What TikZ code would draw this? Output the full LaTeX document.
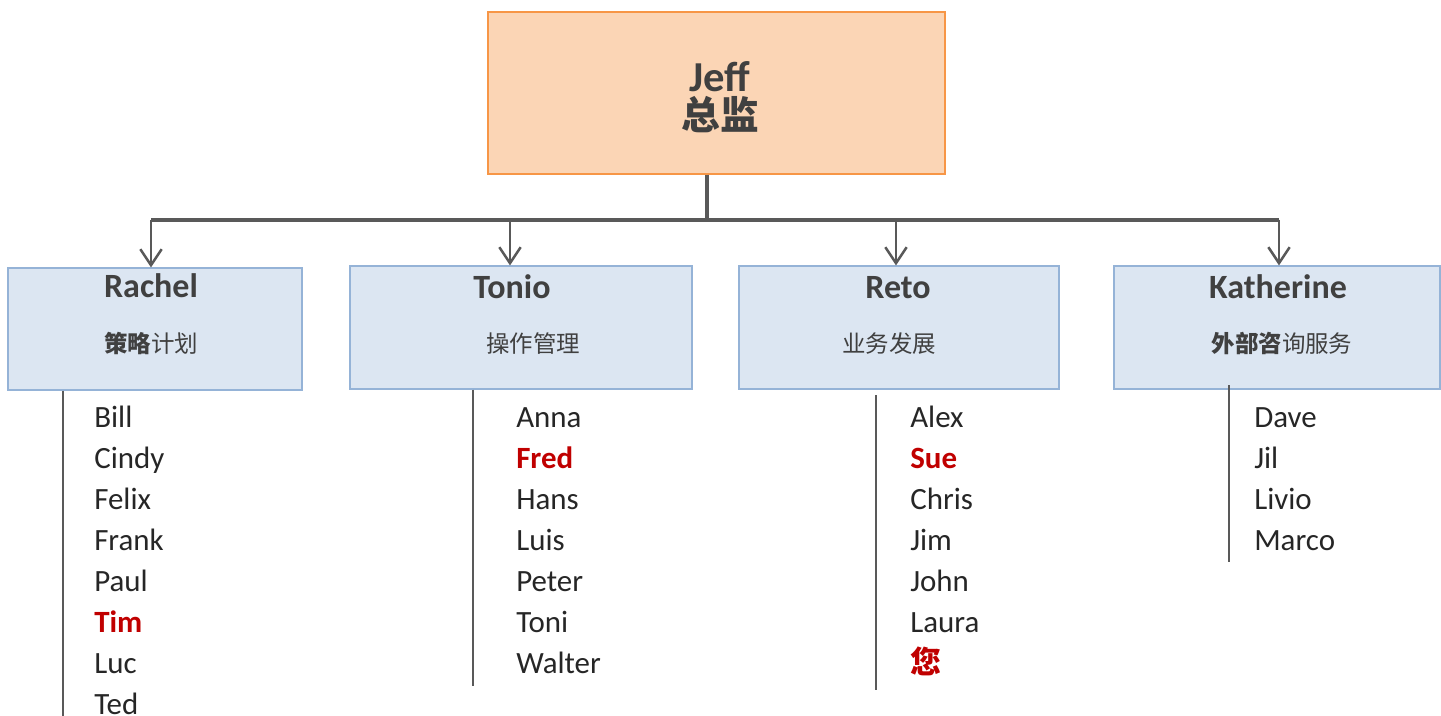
\documentclass[tikz,border=0pt]{standalone}
\usepackage{fontspec}
\setmainfont{Carlito}
\newfontfamily\cjk{Noto Sans CJK SC}
\usetikzlibrary{arrows.meta}
\definecolor{lineC}{HTML}{595959}
\definecolor{topFill}{HTML}{FBD5B5}
\definecolor{topDraw}{HTML}{F79646}
\definecolor{depFill}{HTML}{DCE6F2}
\definecolor{depDraw}{HTML}{95B3D7}
\definecolor{headC}{HTML}{404040}
\definecolor{itemC}{HTML}{262626}
\definecolor{hlC}{HTML}{C00000}
\newcommand\hl[1]{\textcolor{hlC}{\bfseries #1}}
\begin{document}
\begin{tikzpicture}[x=0.75pt,y=-0.75pt,
  topbox/.style={draw=topDraw,fill=topFill,line width=0.9pt,inner sep=0,minimum width=457*0.75pt,minimum height=162*0.75pt},
  depbox/.style={draw=depDraw,fill=depFill,line width=0.8pt,inner sep=0},
  headtxt/.style={anchor=base,inner sep=0,text=headC,font=\fontsize{25.5}{30}\selectfont\bfseries},
  subtxt/.style={anchor=base,inner sep=0,text=headC,font=\fontsize{17.6}{21}\selectfont\cjk},
  item/.style={anchor=base west,inner sep=0,text=itemC,font=\fontsize{23.2}{28}\selectfont},
  trunk/.style={draw=lineC,line width=2.5pt},
  branch/.style={draw=lineC,line width=1.9pt,-{Straight Barb[length=12pt,width=16pt,line width=1.9pt]}},
  listline/.style={draw=lineC,line width=1.9pt}]
\useasboundingbox (0,0) rectangle (1441,716);
% top box
\node[topbox] (jeff) at (716.5,93) {};
\node[anchor=base,inner sep=0,text=headC,font=\fontsize{32}{36}\selectfont\bfseries] (jeffname) at (720,92) {Jeff};
\node[anchor=base,inner sep=0,text=headC,font=\fontsize{29}{34}\selectfont\cjk\bfseries] (jefftitle) at (720,130) {总监};
% department boxes
\node[depbox,minimum width=294*0.75pt,minimum height=122*0.75pt] (rachel) at (155,329) {};
\node[depbox,minimum width=342*0.75pt,minimum height=123*0.75pt] (tonio) at (521,327.5) {};
\node[depbox,minimum width=320*0.75pt,minimum height=123*0.75pt] (reto) at (899,327.5) {};
\node[depbox,minimum width=326*0.75pt,minimum height=123*0.75pt] (kath) at (1277,327.5) {};
\node[headtxt] (rachelN) at (151,298) {Rachel};
\node[headtxt] (tonioN) at (512,299) {Tonio};
\node[headtxt] (retoN) at (898,299) {Reto};
\node[headtxt] (kathN) at (1278,299) {Katherine};
\node[subtxt] (rachelS) at (151,353) {{\bfseries 策略}计划};
\node[subtxt] (tonioS) at (533,353) {操作管理};
\node[subtxt] (retoS) at (889,353) {业务发展};
\node[subtxt] (kathS) at (1282,353) {{\bfseries 外部咨}询服务};
% connectors
\coordinate (hub) at (707,220);
\coordinate (ra) at (151,220);
\coordinate (ta) at (510,220);
\coordinate (ea) at (896,220);
\coordinate (ka) at (1279,220);
\draw[trunk] (hub |- jeff.south) -- (hub);
\draw[trunk] (ra) -- (ka);
\draw[branch] (ra) -- (ra |- rachel.north);
\draw[branch] (ta) -- (ta |- tonio.north);
\draw[branch] (ea) -- (ea |- reto.north);
\draw[branch] (ka) -- (ka |- kath.north);
% list lines
\coordinate (rl) at (63,716);
\coordinate (tl) at (473,686);
\coordinate (el) at (876,690);
\coordinate (kl) at (1229,562);
\draw[listline] (rl |- rachel.south) -- (rl);
\draw[listline] (tl |- tonio.south) -- (tl);
\draw[listline] (876,395) coordinate (el0) -- (el);
\draw[listline] (1229,385) coordinate (kl0) -- (kl);
% lists
\foreach \n [count=\i] in {Bill,Cindy,Felix,Frank,Paul,\hl{Tim},Luc,Ted}
  \node[item] (r\i) at (94,{427+41*(\i-1)}) {\n};
\foreach \n [count=\i] in {Anna,\hl{Fred},Hans,Luis,Peter,Toni,Walter}
  \node[item] (t\i) at (516,{427+41*(\i-1)}) {\n};
\foreach \n [count=\i] in {Alex,\hl{Sue},Chris,Jim,John,Laura,{\cjk\hl{您}}}
  \node[item] (e\i) at (910,{427+41*(\i-1)}) {\n};
\foreach \n [count=\i] in {Dave,Jil,Livio,Marco}
  \node[item] (k\i) at (1254,{427+41*(\i-1)}) {\n};
\end{tikzpicture}
\end{document}
